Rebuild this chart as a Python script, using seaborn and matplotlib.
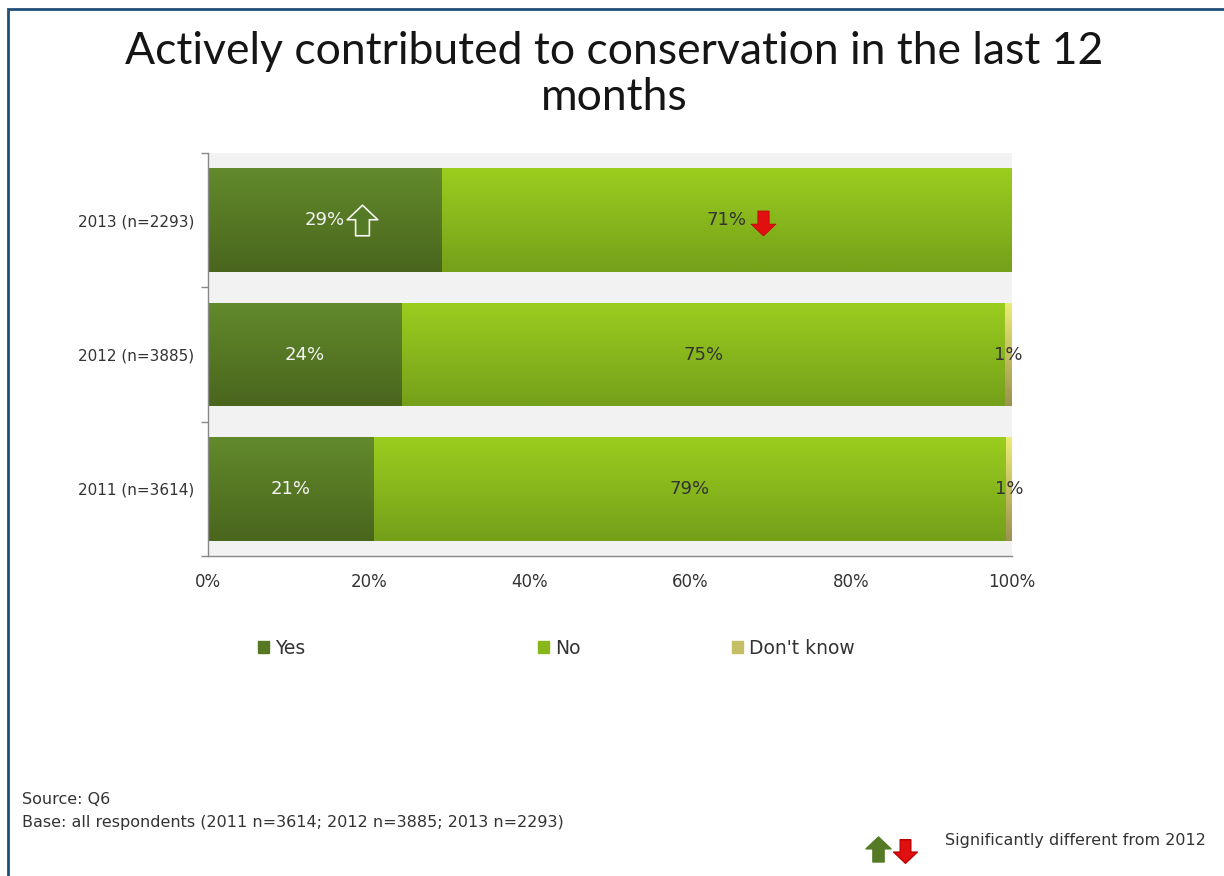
import numpy as np
import pandas as pd
import matplotlib
matplotlib.use("Agg")
import matplotlib.pyplot as plt
import matplotlib.patches as mpatches
from matplotlib.lines import Line2D
from matplotlib.path import Path
import matplotlib.colors as mcolors
import seaborn as sns

# chart values
years = ["2013 (n=2293)", "2012 (n=3885)", "2011 (n=3614)"]
yes = [29.0, 24.1, 20.6]
no = [71.0, 75.0, 78.6]
dont_know = [0.0, 0.9, 0.8]
yes_labels = ["29%", "24%", "21%"]
no_labels = ["71%", "75%", "79%"]
dk_labels = ["", "1%", "1%"]
series_names = ["Yes", "No", "Don't know"]
x_ticks = [0, 20, 40, 60, 80, 100]

sns.set_theme(style="white")
plt.rcParams["font.family"] = ["DejaVu Sans"]

# top / bottom gradient colours for each series
grad = {
    "Yes": ("#628a2c", "#4a661d"),
    "No": ("#9bcd1f", "#74a01a"),
    "Don't know": ("#ecec78", "#9c9250"),
}

df = pd.DataFrame({"year": years, "Yes": yes, "No": no, "Don't know": dont_know})
df["c_yes"] = df["Yes"]
df["c_no"] = df["Yes"] + df["No"]
df["c_dk"] = df["c_no"] + df["Don't know"]

fig = plt.figure(figsize=(12.24, 8.76), dpi=100)
ax = fig.add_axes([208 / 1224, 1 - 556 / 876, (1012 - 208) / 1224, (556 - 153) / 876])
ax.set_facecolor("#f2f2f2")


def shade(patch, top, bottom):
    x0, y0 = patch.get_x(), patch.get_y()
    w, h = patch.get_width(), patch.get_height()
    if w <= 0:
        return
    c1 = np.array(mcolors.to_rgb(top))
    c2 = np.array(mcolors.to_rgb(bottom))
    t = np.linspace(0, 1, 64)[:, None]
    img = (c1 * (1 - t) + c2 * t)[:, None, :]
    im = ax.imshow(img, extent=(x0, x0 + w, y0 + h, y0), aspect="auto",
                   interpolation="bilinear", zorder=patch.get_zorder() + 0.1)
    im.set_clip_path(patch)


# stacked bars: draw the longest cumulative first
for col, name in [("c_dk", "Don't know"), ("c_no", "No"), ("c_yes", "Yes")]:
    n0 = len(ax.patches)
    sns.barplot(data=df, x=col, y="year", orient="h", order=years,
                color=grad[name][1], width=0.77, linewidth=0, ax=ax, zorder=2 + len(ax.patches) / 100)
    for p in ax.patches[n0:]:
        shade(p, *grad[name])

ax.set_xlim(0, 100)
ax.set_ylim(2.5, -0.5)

# value labels
for i in range(len(years)):
    ax.text(yes[i] / 2, i, yes_labels[i], ha="center", va="center",
            fontsize=13, color="#f4f4f4", zorder=10)
    ax.text(yes[i] + no[i] / 2, i, no_labels[i], ha="center", va="center",
            fontsize=13, color="#333333", zorder=10)
    if dk_labels[i]:
        ax.text(yes[i] + no[i] + dont_know[i] / 2, i, dk_labels[i], ha="center",
                va="center", fontsize=13, color="#333333", zorder=10)

# significance arrows
up_path = Path([(0, 1), (1, 0.05), (0.45, 0.05), (0.45, -1), (-0.45, -1),
                (-0.45, 0.05), (-1, 0.05), (0, 1)],
               [Path.MOVETO] + [Path.LINETO] * 6 + [Path.CLOSEPOLY])
down_path = Path([(0, -1), (1, -0.05), (0.45, -0.05), (0.45, 1), (-0.45, 1),
                  (-0.45, -0.05), (-1, -0.05), (0, -1)],
                 [Path.MOVETO] + [Path.LINETO] * 6 + [Path.CLOSEPOLY])
ax.plot([yes[0] / 2 + 4.6], [0], marker=up_path, ms=22, mfc="#557a25",
        mec="#f4f4f4", mew=1.2, zorder=11, clip_on=False)
ax.plot([yes[0] + no[0] / 2 + 4.5], [0.02], marker=down_path, ms=18, mfc="#e01010",
        mec="#c00000", mew=0.5, zorder=11, clip_on=False)

# axes styling
ax.set_xticks(x_ticks)
ax.set_xticklabels([f"{v}%" for v in x_ticks], fontsize=12, color="#333333")
ax.set_yticks(range(len(years)))
ax.set_yticklabels(years, fontsize=11, color="#333333")
ax.set_yticks([-0.5, 0.5, 1.5, 2.5], minor=True)
ax.tick_params(axis="y", which="major", length=0, pad=10)
ax.tick_params(axis="y", which="minor", length=5, color="#888888", left=True)
ax.tick_params(axis="x", length=0, pad=12)
ax.set_xlabel("")
ax.set_ylabel("")
for s in ["top", "right"]:
    ax.spines[s].set_visible(False)
for s in ["left", "bottom"]:
    ax.spines[s].set_color("#888888")
    ax.spines[s].set_linewidth(1)

# legend, one entry per column position
legend_x = [258, 538, 732]
for name, lx in zip(series_names, legend_x):
    top, bottom = grad[name]
    mid = tuple((np.array(mcolors.to_rgb(top)) + np.array(mcolors.to_rgb(bottom))) / 2)
    fig.legend(handles=[mpatches.Patch(color=mid, label=name)], loc="center left",
               bbox_to_anchor=(lx / 1224, 1 - 648 / 876), frameon=False, fontsize=13.5,
               handlelength=0.6, handleheight=0.6, handletextpad=0.3,
               borderaxespad=0, borderpad=0, labelcolor="#333333")

# title and footnotes
title_font = dict(family=["Lato", "DejaVu Sans"], fontweight="normal")
fig.text(614 / 1224, 1 - 52 / 876, "Actively contributed to conservation in the last 12",
         ha="center", va="center", fontsize=32, color="#151515", **title_font)
fig.text(614 / 1224, 1 - 98 / 876, "months", ha="center", va="center",
         fontsize=32, color="#151515", **title_font)
fig.text(22 / 1224, 1 - 800 / 876, "Source: Q6", fontsize=11.5, color="#333333", va="center")
fig.text(22 / 1224, 1 - 823 / 876, "Base: all respondents (2011 n=3614; 2012 n=3885; 2013 n=2293)",
         fontsize=11.5, color="#333333", va="center")
fig.text(945 / 1224, 1 - 841 / 876, "Significantly different from 2012", fontsize=11.5,
         color="#333333", va="center")
fig.add_artist(Line2D([878 / 1224], [1 - 849 / 876], marker=up_path, ms=18,
                      mfc="#557a25", mec="#557a25", transform=fig.transFigure))
fig.add_artist(Line2D([905 / 1224], [1 - 851 / 876], marker=down_path, ms=17,
                      mfc="#e01010", mec="#c00000", transform=fig.transFigure))

# slide frame
fig.add_artist(mpatches.Rectangle((8 / 1224, -0.05), 1.1, 1 - 9 / 876 + 0.05,
                                  transform=fig.transFigure, fill=False,
                                  edgecolor="#1f4e79", linewidth=2))

fig.savefig("out.png", dpi=100)
